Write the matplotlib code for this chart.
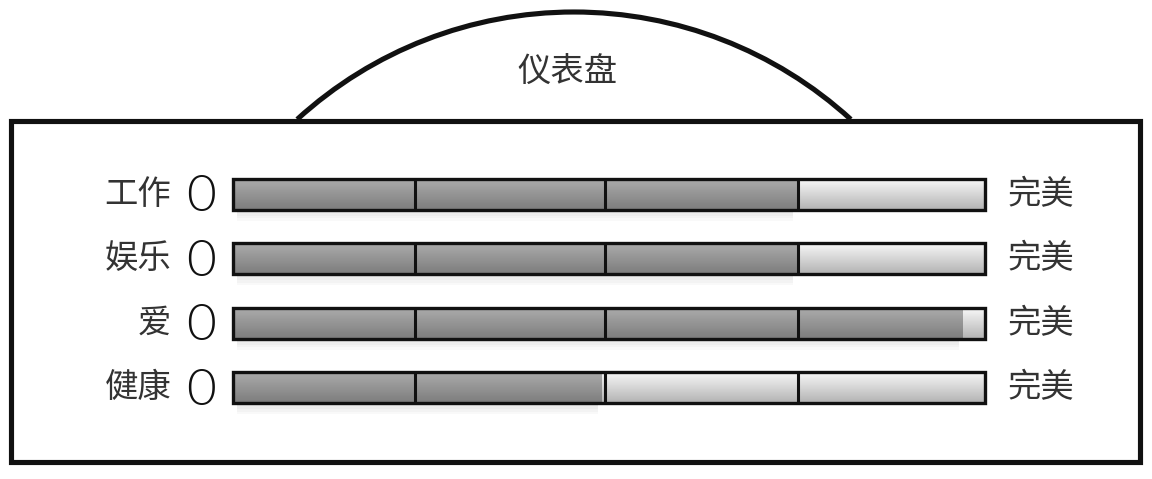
import numpy as np
import matplotlib
matplotlib.use("Agg")
from matplotlib import pyplot as plt
from matplotlib.patches import Rectangle, Arc

plt.rcParams['font.family'] = ['Noto Sans CJK SC', 'DejaVu Sans']

title = "仪表盘"
categories = ["工作", "娱乐", "爱", "健康"]
scores = [75, 75, 97, 49]
low_label = "0"
high_label = "完美"
ticks = [24.2, 49.5, 75.1]
score_max = 100

W, H = 1152, 479
fig = plt.figure(figsize=(W / 100, H / 100), dpi=100)

# background layer in pixel units: frame + dome
bg = fig.add_axes([0, 0, 1, 1])
bg.set_xlim(0, W)
bg.set_ylim(H, 0)
bg.axis("off")
bg.add_patch(Rectangle((10.5, 121), 1129, 340.5, fill=False, ec="#111111", lw=3.7))
bg.add_patch(Arc((574, 422.5), 821, 821, theta1=227.6, theta2=312.4, ec="#111111", lw=3.7))
bg.text(567, 72, title, ha="center", va="center", fontsize=24, color="#333333",
        fontweight="light")

# bars axes
x0, x1 = 233, 985
y_top, y_bot = 162, 420
ax = fig.add_axes([x0 / W, 1 - y_bot / H, (x1 - x0) / W, (y_bot - y_top) / H])
ax.axis("off")

n = len(categories)
h = 0.48
grad = np.linspace(0, 1, 50).reshape(-1, 1)
for i, (cat, v) in enumerate(zip(categories, scores)):
    top, bot = i - h / 2, i + h / 2
    # soft shadow under filled part
    for k in range(4):
        ax.add_patch(Rectangle((0.5, bot), v - 1, 0.05 + 0.04 * k, color="black",
                               alpha=0.025, lw=0, zorder=0.5))
    # empty part (light gradient)
    ax.imshow(0.97 - 0.27 * grad, cmap="gray", vmin=0, vmax=1, aspect="auto",
              extent=(v, score_max, bot, top), zorder=1, interpolation="bilinear")
    # filled part (dark gradient)
    ax.imshow(0.67 - 0.18 * grad, cmap="gray", vmin=0, vmax=1, aspect="auto",
              extent=(0, v, bot, top), zorder=2, interpolation="bilinear")
    for t in ticks:
        ax.plot([t, t], [top, bot], color="#111111", lw=2.2, zorder=3,
                solid_capstyle="butt")
    ax.add_patch(Rectangle((0, top), score_max, h, fill=False, ec="#111111",
                           lw=2.4, zorder=4, clip_on=False))
    ax.text(-8.2, i, cat, ha="right", va="center", fontsize=24, color="#333333",
            fontweight="light")
    ax.text(-2.3, i + 0.05, low_label, ha="right", va="center", fontsize=37,
            family=["Lato", "DejaVu Sans"], fontweight=300, color="#111111")
    ax.text(103.0, i, high_label, ha="left", va="center", fontsize=24, color="#333333",
            fontweight="light")

ax.set_xlim(0, score_max)
ax.set_ylim(n - 0.5, -0.5)

fig.savefig("out.png", dpi=100)
